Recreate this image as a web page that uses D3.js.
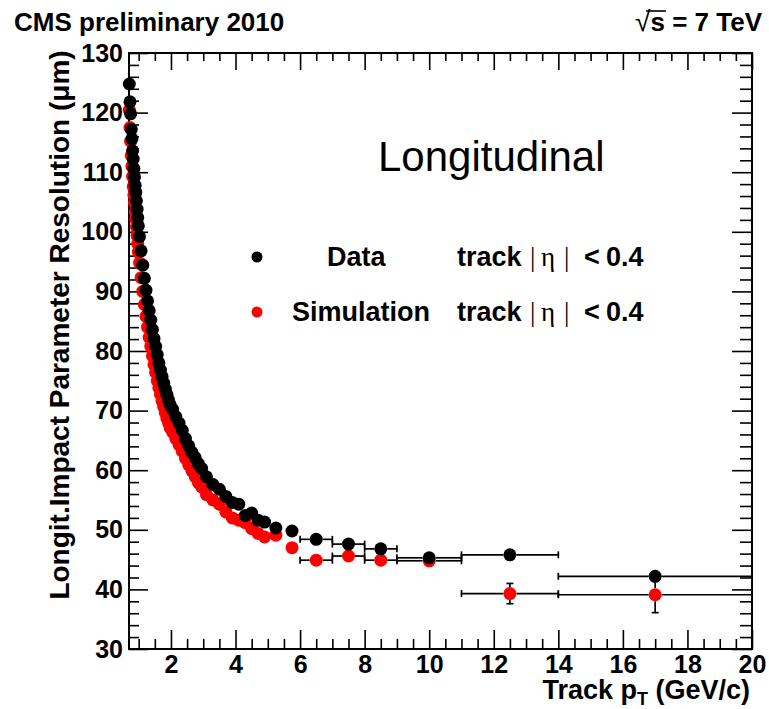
<!DOCTYPE html>
<html>
<head>
<meta charset="utf-8">
<script src="https://cdn.jsdelivr.net/npm/d3@7/dist/d3.min.js"></script>
<style>
  html, body { margin: 0; padding: 0; background: #fff; }
  svg { display: block; }
  text { font-family: "Liberation Sans", Arial, Helvetica, sans-serif; }
</style>
</head>
<body>
<script>
// Track pT bin centres (GeV/c) and longitudinal impact-parameter resolution (µm), |eta| < 0.4
const ptData = [
  0.71, 0.73, 0.75, 0.77, 0.79, 0.81, 0.83, 0.85, 0.87, 0.89, 0.91, 0.93, 0.95, 0.97, 0.99,
  1.025, 1.075, 1.125, 1.175, 1.225, 1.275, 1.325, 1.375, 1.425, 1.475, 1.525, 1.575, 1.625,
  1.675, 1.725, 1.775, 1.825, 1.875, 1.925, 1.975,
  2.05, 2.15, 2.25, 2.35, 2.45, 2.55, 2.65, 2.75, 2.85, 2.95,
  3.1, 3.3, 3.5, 3.7, 3.9, 4.1, 4.3, 4.5, 4.7, 4.9,
  5.25, 5.75, 6.5, 7.5, 8.5, 10, 12.5, 17
];
const resData = [
  124.8, 121.8, 119.8, 117.2, 115.6, 113.6, 112.2, 110.6, 109.2, 107.8, 106.6, 105.2, 103.8, 102.4, 101.0,
  99.2, 96.8, 94.4, 92.2, 90.2, 88.4, 86.8, 85.2, 83.6, 82.1, 80.8, 79.4, 78.0,
  76.8, 75.7, 74.6, 73.6, 72.7, 71.8, 71.0,
  70.2, 69.0, 67.9, 66.7, 65.3, 64.1, 63.0, 62.1, 61.1, 60.3,
  58.9, 57.6, 56.8, 55.6, 54.6, 54.3, 52.4, 52.8, 51.6, 51.3,
  50.3, 49.8, 48.4, 47.6, 46.8, 45.3, 45.8, 42.2
];

const ptSim = ptData;
const resSim = [
  120.4, 117.5, 115.2, 112.8, 111.0, 109.3, 107.6, 106.2, 104.9, 103.4, 102.1, 100.8, 99.4, 98.0, 96.6,
  94.8, 92.3, 90.0, 87.8, 85.8, 84.0, 82.3, 80.8, 79.2, 77.7, 76.4, 75.0, 73.8,
  72.7, 71.6, 70.6, 69.6, 68.7, 67.9, 67.1,
  66.4, 65.3, 64.3, 63.2, 62.0, 60.9, 59.9, 58.9, 57.9, 57.2,
  55.9, 55.0, 54.3, 53.0, 52.0, 51.6, 51.2, 50.2, 49.4, 48.8,
  49.1, 47.0, 44.9, 45.6, 44.9, 44.8, 39.3, 39.1
];

// The six widest pT bins (last six points of each series) carry drawn error bars
const wideBinLow  = [6, 7, 8, 9, 11, 14];
const wideBinHigh = [7, 8, 9, 11, 14, 20];
const errData = [0.3, 0.3, 0.3, 0.3, 0.4, 1.0];
const errSim  = [0.3, 0.3, 0.3, 0.3, 1.7, 3.0];

const xMajorTicks = [2, 4, 6, 8, 10, 12, 14, 16, 18, 20];
const yMajorTicks = [30, 40, 50, 60, 70, 80, 90, 100, 110, 120, 130];

const W = 769, H = 709;
const frame = { left: 129, right: 752, top: 53, bottom: 649 };

const svg = d3.select("body").append("svg").attr("width", W).attr("height", H);

const x = d3.scaleLinear().domain([0.7, 20]).range([frame.left, frame.right]);
const y = d3.scaleLinear().domain([30, 130]).range([frame.bottom, frame.top]);

const xMinor = d3.range(1, 20, 0.5).filter(v => v % 2 !== 0);
const yMinor = d3.range(32, 130, 2).filter(v => v % 10 !== 0);

const MAJ = 19, MIN = 10;

function styleAxis(g) {
  g.select(".domain").remove();
  g.selectAll(".tick line").attr("stroke", "#000").attr("stroke-width", 1.6);
  g.selectAll("text").attr("fill", "#000").attr("font-weight", "bold").attr("font-size", 25);
}

// bottom
svg.append("g").attr("transform", `translate(0,${frame.bottom})`)
  .call(d3.axisBottom(x).tickValues(xMajorTicks).tickSizeInner(-MAJ).tickSizeOuter(0).tickPadding(6).tickFormat(d3.format("d")))
  .call(styleAxis);
svg.append("g").attr("transform", `translate(0,${frame.bottom})`)
  .call(d3.axisBottom(x).tickValues(xMinor).tickSizeInner(-MIN).tickSizeOuter(0).tickFormat(""))
  .call(styleAxis);
// top
svg.append("g").attr("transform", `translate(0,${frame.top})`)
  .call(d3.axisTop(x).tickValues(xMajorTicks).tickSizeInner(-MAJ + 2).tickSizeOuter(0).tickFormat(""))
  .call(styleAxis);
svg.append("g").attr("transform", `translate(0,${frame.top})`)
  .call(d3.axisTop(x).tickValues(xMinor).tickSizeInner(-MIN + 2).tickSizeOuter(0).tickFormat(""))
  .call(styleAxis);
// left
svg.append("g").attr("transform", `translate(${frame.left},0)`)
  .call(d3.axisLeft(y).tickValues(yMajorTicks).tickSizeInner(-MAJ).tickSizeOuter(0).tickPadding(6).tickFormat(d3.format("d")))
  .call(styleAxis);
svg.append("g").attr("transform", `translate(${frame.left},0)`)
  .call(d3.axisLeft(y).tickValues(yMinor).tickSizeInner(-MIN).tickSizeOuter(0).tickFormat(""))
  .call(styleAxis);
// right
svg.append("g").attr("transform", `translate(${frame.right},0)`)
  .call(d3.axisRight(y).tickValues(yMajorTicks).tickSizeInner(-MAJ - 1).tickSizeOuter(0).tickFormat(""))
  .call(styleAxis);
svg.append("g").attr("transform", `translate(${frame.right},0)`)
  .call(d3.axisRight(y).tickValues(yMinor).tickSizeInner(-MIN - 2).tickSizeOuter(0).tickFormat(""))
  .call(styleAxis);

// frame
svg.append("rect")
  .attr("x", frame.left).attr("y", frame.top)
  .attr("width", frame.right - frame.left).attr("height", frame.bottom - frame.top)
  .attr("fill", "none").attr("stroke", "#000").attr("stroke-width", 2);

const R = 6.5, SERIF = 3.5;

function drawSeries(pts, vals, errs, colour) {
  const n = pts.length, off = n - wideBinLow.length;
  const eg = svg.append("g").attr("stroke", "#000").attr("stroke-width", 1.7).attr("fill", "none");
  wideBinLow.forEach((lo, i) => {
    const cx = x(pts[off + i]), cy = y(vals[off + i]);
    const xl = x(lo), xh = x(wideBinHigh[i]);
    // horizontal bar, broken by the marker
    eg.append("line").attr("x1", xl).attr("x2", cx - R).attr("y1", cy).attr("y2", cy);
    eg.append("line").attr("x1", cx + R).attr("x2", xh).attr("y1", cy).attr("y2", cy);
    eg.append("line").attr("x1", xl).attr("x2", xl).attr("y1", cy - SERIF).attr("y2", cy + SERIF);
    if (wideBinHigh[i] < 20)
      eg.append("line").attr("x1", xh).attr("x2", xh).attr("y1", cy - SERIF).attr("y2", cy + SERIF);
    // vertical bar when it reaches out of the marker
    const yt = y(vals[off + i] + errs[i]), yb = y(vals[off + i] - errs[i]);
    if (cy - yt > R) {
      eg.append("line").attr("x1", cx).attr("x2", cx).attr("y1", yt).attr("y2", cy - R);
      eg.append("line").attr("x1", cx).attr("x2", cx).attr("y1", yb).attr("y2", cy + R);
      eg.append("line").attr("x1", cx - SERIF).attr("x2", cx + SERIF).attr("y1", yt).attr("y2", yt);
      eg.append("line").attr("x1", cx - SERIF).attr("x2", cx + SERIF).attr("y1", yb).attr("y2", yb);
    }
  });
  svg.append("g").selectAll("circle").data(d3.zip(pts, vals)).join("circle")
    .attr("cx", d => x(d[0])).attr("cy", d => y(d[1])).attr("r", R).attr("fill", colour);
}

drawSeries(ptSim, resSim, errSim, "#ff0000");
drawSeries(ptData, resData, errData, "#000000");

// titles
svg.append("text").attr("x", 14).attr("y", 31)
  .attr("font-weight", "bold").attr("font-size", 26).text("CMS preliminary 2010");

const sq = svg.append("text").attr("x", 762).attr("y", 31).attr("text-anchor", "end")
  .attr("font-weight", "bold").attr("font-size", 26);
sq.append("tspan").attr("font-weight", "normal").attr("font-size", 28).text("\u221A");
sq.append("tspan").text("s = 7 TeV");
{
  const node = sq.node();
  const sEnd = node.getEndPositionOfChar(1).x;
  const rootStart = node.getStartPositionOfChar(0).x;
  svg.append("line").attr("x1", rootStart + 11).attr("x2", sEnd + 1).attr("y1", 11).attr("y2", 11)
    .attr("stroke", "#000").attr("stroke-width", 1.6);
}

svg.append("text").attr("transform", "translate(69,325) rotate(-90)")
  .attr("text-anchor", "middle").attr("font-weight", "bold").attr("font-size", 28)
  .text("Longit.Impact Parameter Resolution (\u03BCm)");

const xt = svg.append("text").attr("x", 750).attr("y", 699).attr("text-anchor", "end")
  .attr("font-weight", "bold").attr("font-size", 27);
xt.append("tspan").text("Track p");
xt.append("tspan").attr("font-size", 18).attr("dy", 6).text("T");
xt.append("tspan").attr("dy", -6).text(" (GeV/c)");

svg.append("text").attr("x", 378).attr("y", 171).attr("font-size", 42).text("Longitudinal");

// legend
const legend = [
  { label: "Data", colour: "#000000", y: 257, lx: 327 },
  { label: "Simulation", colour: "#ff0000", y: 312, lx: 292 }
];
const serif = "'Liberation Serif', 'Times New Roman', serif";
legend.forEach(l => {
  const base = l.y + 9;
  svg.append("circle").attr("cx", 257).attr("cy", l.y).attr("r", 5.5).attr("fill", l.colour);
  svg.append("text").attr("x", l.lx).attr("y", base).attr("font-weight", "bold").attr("font-size", 27).text(l.label);
  const t = svg.append("text").attr("y", base).attr("font-weight", "bold").attr("font-size", 27);
  t.append("tspan").attr("x", 457).text("track");
  t.append("tspan").attr("x", 530).attr("font-family", serif).attr("font-weight", "normal").text("|");
  t.append("tspan").attr("x", 541).attr("font-family", serif).attr("font-weight", "normal").text("\u03B7");
  t.append("tspan").attr("x", 564).attr("font-family", serif).attr("font-weight", "normal").text("|");
  t.append("tspan").attr("x", 584).text("<");
  t.append("tspan").attr("x", 606).text("0.4");
});
</script>
</body>
</html>
